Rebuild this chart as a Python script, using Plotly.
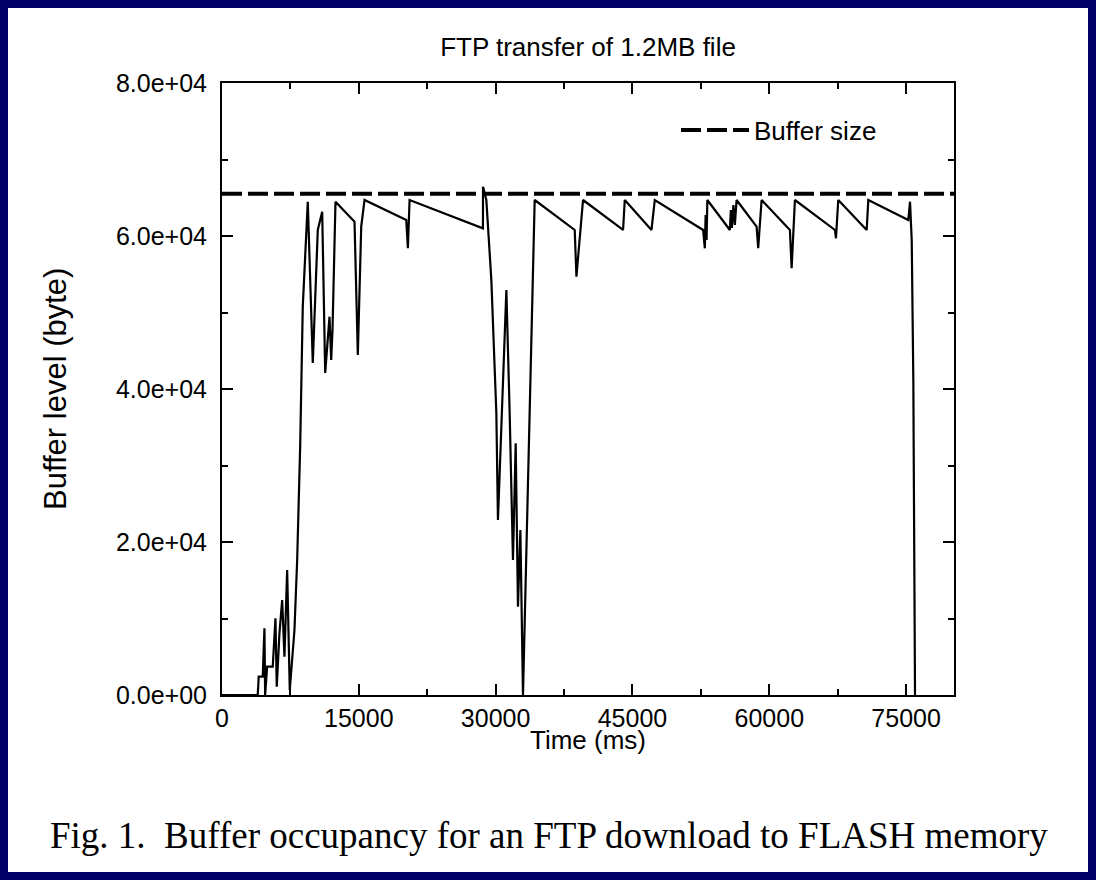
import plotly.graph_objects as go

# ---- data ----
time_ms = [0, 3917, 4027, 4466, 4653, 4729, 4949, 5563, 5860, 6002, 6298, 6595, 6847,
           7143, 7429, 7944, 8241, 8570, 8855, 9404, 9953, 10501, 10984, 11313, 11785,
           11971, 12114, 12443, 14528, 14890, 15263, 15625, 20202, 20377, 20564, 28607,
           28617, 28980, 29529, 30077, 30253, 30626, 31175, 31537, 31899, 32195, 32448,
           32711, 32997, 34280, 38669, 38855, 39580, 43969, 44156, 47085, 47447, 52747,
           52934, 53022, 53121, 53209, 55678, 55788, 55898, 56062, 56227, 56414, 58608,
           58784, 59157, 62261, 62448, 62810, 67199, 67309, 67561, 70677, 70853, 75242,
           75428, 75615, 75791, 75977]
buffer_level = [0, 0, 2392, 2392, 8719, 0, 3699, 3699, 10026, 1085, 8065, 12418, 5006,
                16340, 654, 8497, 17647, 32457, 50758, 64484, 43399, 60785, 63177, 42092,
                49452, 43791, 47713, 64484, 61871, 44445, 61218, 64706, 62092, 58393, 64706,
                61006, 66445, 64706, 54253, 36824, 22876, 35948, 52931, 36863, 17647, 32902,
                11542, 21569, 0, 64706, 60785, 54680, 64706, 60785, 64706, 60785, 64706,
                60785, 58393, 62746, 59478, 64706, 60785, 63400, 61046, 64052, 61438, 64706,
                61218, 58393, 64706, 60785, 55778, 64706, 60785, 59700, 64706, 60785, 64706,
                62092, 64484, 59476, 41177, 0]
BUFFER_SIZE = 65536

x_range = [0, 80250]
y_range = [0, 80000]
x_ticks = [0, 15000, 30000, 45000, 60000, 75000]
x_ticktext = ["0", "15000", "30000", "45000", "60000", "75000"]
y_ticks = [0, 20000, 40000, 60000, 80000]
y_ticktext = ["0.0e+00", "2.0e+04", "4.0e+04", "6.0e+04", "8.0e+04"]

SANS = "Liberation Sans, Arial, Helvetica, sans-serif"
SERIF = "Liberation Serif, Times New Roman, serif"

fig = go.Figure()
fig.add_trace(go.Scatter(x=time_ms, y=buffer_level, mode="lines",
                         line=dict(color="black", width=2.2), showlegend=False,
                         name="Buffer level"))
fig.add_trace(go.Scatter(x=x_range, y=[BUFFER_SIZE, BUFFER_SIZE], mode="lines",
                         line=dict(color="black", width=4, dash="20px,6px"),
                         name="Buffer size", showlegend=True))

W, H = 1096, 880
L, R, T, B = 222, 142, 83, 185
pw, ph = W - L - R, H - T - B

def px(xp):
    return (xp - L) / pw

def py(yp):
    return (H - B - yp) / ph

axis_common = dict(showgrid=False, zeroline=False, showline=True, linecolor="black",
                   linewidth=2, mirror="ticks", ticks="inside", ticklen=11,
                   tickwidth=1.5, tickcolor="black",
                   tickfont=dict(family=SANS, size=25, color="black"))

fig.update_xaxes(range=x_range, tickmode="array", tickvals=x_ticks, ticktext=x_ticktext,
                 minor=dict(ticks="inside", ticklen=6, tickwidth=1.5, tickcolor="black",
                            dtick=7500, tick0=0, showgrid=False),
                 ticklabelstandoff=0, **axis_common)
fig.update_yaxes(range=y_range, tickmode="array", tickvals=y_ticks, ticktext=y_ticktext,
                 minor=dict(ticks="inside", ticklen=6, tickwidth=1.5, tickcolor="black",
                            dtick=10000, tick0=0, showgrid=False),
                 ticklabelstandoff=8, **axis_common)

fig.update_layout(
    width=W, height=H,
    margin=dict(l=L, r=R, t=T, b=B, autoexpand=False),
    paper_bgcolor="#000066", plot_bgcolor="white",
    title=dict(text="FTP transfer of 1.2MB file", x=0.5, xref="paper",
               y=1 - 47 / H, yanchor="middle",
               font=dict(family=SANS, size=26, color="black")),
    legend=dict(x=px(676), y=py(130), xanchor="left", yanchor="middle",
                bgcolor="rgba(0,0,0,0)", borderwidth=0, itemwidth=68,
                font=dict(family=SANS, size=26, color="black")),
    shapes=[dict(type="rect", xref="paper", yref="paper",
                 x0=px(8), x1=px(1088), y0=py(872), y1=py(8),
                 fillcolor="white", line=dict(width=0), layer="below")],
    annotations=[
        dict(text="Time (ms)", xref="paper", yref="paper", x=px(588), y=py(740),
             xanchor="center", yanchor="middle", showarrow=False,
             font=dict(family=SANS, size=26, color="black")),
        dict(text="Buffer level (byte)", xref="paper", yref="paper", x=px(55), y=py(389),
             xanchor="center", yanchor="middle", showarrow=False, textangle=-90,
             font=dict(family=SANS, size=31, color="black")),
        dict(text="Fig. 1.\u00a0\u00a0Buffer occupancy for an FTP download to FLASH memory",
             xref="paper", yref="paper", x=px(549), y=py(835),
             xanchor="center", yanchor="middle", showarrow=False,
             font=dict(family=SERIF, size=37, color="black")),
    ],
)

fig.write_html("out.html", config={"displayModeBar": False},
               post_script="document.body.style.margin='0px';"
                           "document.body.style.background='#000066';")
